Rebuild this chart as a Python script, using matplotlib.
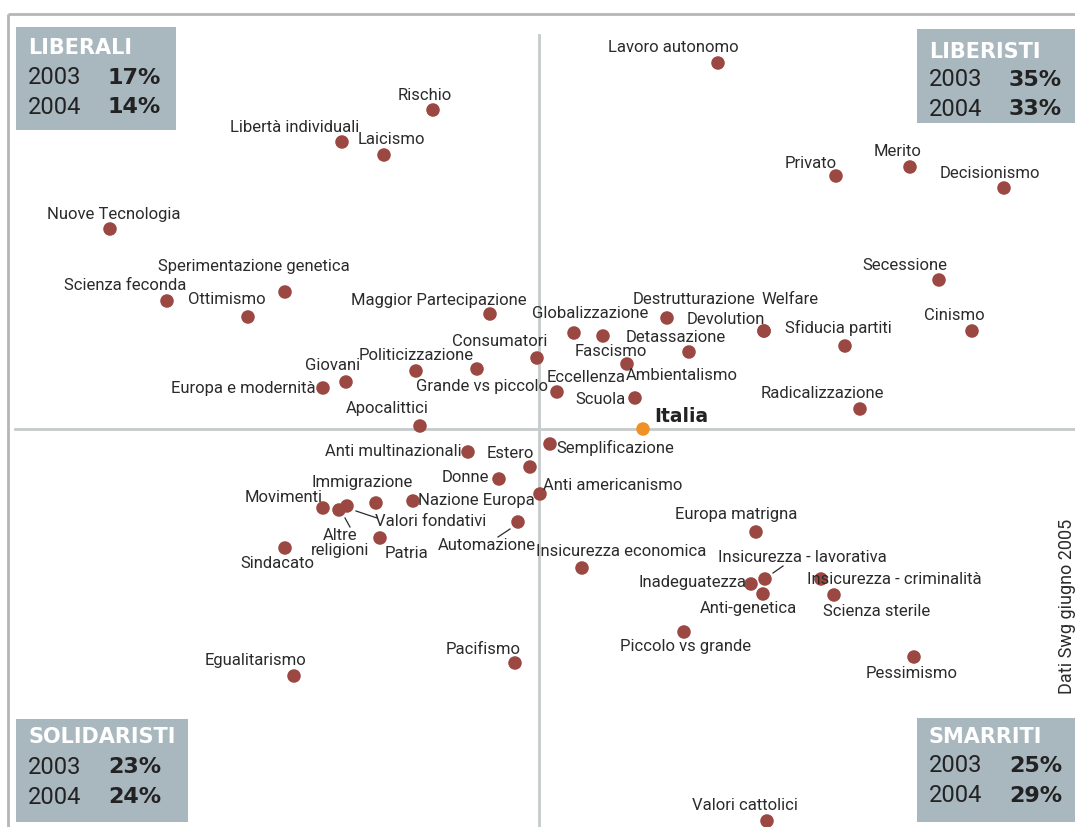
import matplotlib
matplotlib.use("Agg")
import matplotlib.pyplot as plt
from matplotlib.patches import Rectangle

# --- data: position of each theme on the map (pixel units of the original map) ---
names = [
    "Lavoro autonomo", "Rischio", "Libertà individuali", "Laicismo",
    "Privato", "Merito", "Decisionismo", "Nuove Tecnologia",
    "Sperimentazione genetica", "Scienza feconda", "Ottimismo", "Secessione",
    "Maggior Partecipazione", "Globalizzazione", "Fascismo", "Destrutturazione",
    "Detassazione", "Devolution", "Welfare", "Sfiducia partiti", "Cinismo",
    "Ambientalismo", "Consumatori", "Eccellenza", "Scuola", "Radicalizzazione",
    "Giovani", "Politicizzazione", "Europa e modernità", "Grande vs piccolo",
    "Apocalittici", "Anti multinazionali", "Estero", "Semplificazione", "Donne",
    "Anti americanismo", "Immigrazione", "Nazione Europa", "Movimenti",
    "Altre\nreligioni", "Valori fondativi", "Patria", "Automazione", "Sindacato",
    "Europa matrigna", "Insicurezza economica", "Insicurezza - lavorativa",
    "Inadeguatezza", "Anti-genetica", "Insicurezza - criminalità",
    "Scienza sterile", "Piccolo vs grande", "Pessimismo", "Egualitarismo",
    "Pacifismo", "Valori cattolici",
]
pos_x = [
    718, 433, 342, 384,
    836, 910, 1004, 110,
    285, 167, 248, 939,
    490, 574, 603, 667,
    689, 764, 764, 845, 972,
    627, 537, 557, 635, 860,
    346, 416, 323, 477,
    420, 468, 530, 550, 499,
    540, 376, 413, 323,
    339, 347, 380, 518, 285,
    756, 582, 765,
    751, 763, 821,
    834, 684, 914, 294,
    515, 767,
]
pos_y = [
    63, 110, 142, 155,
    176, 167, 188, 229,
    292, 301, 317, 280,
    314, 333, 336, 318,
    352, 331, 331, 346, 331,
    364, 358, 392, 398, 409,
    382, 371, 388, 369,
    426, 452, 467, 444, 479,
    494, 503, 501, 508,
    510, 506, 538, 522, 548,
    532, 568, 579,
    584, 594, 579,
    595, 632, 657, 676,
    663, 821,
]
italia_x, italia_y = 643, 429

groups = ["LIBERALI", "LIBERISTI", "SOLIDARISTI", "SMARRITI"]
share_2003 = [17, 35, 23, 25]
share_2004 = [14, 33, 24, 29]

# --- layout: label centres, same order as names ---
label_xy = [
    (673, 48), (425, 95), (295, 128), (391, 140),
    (811, 163), (898, 151), (990, 174), (114, 214),
    (254, 266), (125, 285), (227, 300), (905, 265),
    (439, 300), (590, 314), (611, 351), (694, 300),
    (676, 337), (726, 319), (790, 300), (838, 328), (954, 316),
    (682, 376), (500, 342), (586, 377), (601, 399), (822, 393),
    (333, 365), (416, 356), (243, 388), (482, 386),
    (387, 408), (393, 451), (510, 453), (615, 448), (465, 477),
    (613, 485), (362, 482), (476, 501), (284, 497),
    (340, 543), (431, 521), (406, 554), (487, 546), (277, 563),
    (736, 515), (621, 551), (802, 558),
    (692, 582), (748, 608), (894, 579),
    (877, 612), (686, 646), (912, 673), (256, 661),
    (483, 649), (745, 806),
]
leaders = [((345, 518), (350, 527)), ((356, 511), (377, 518)),
           ((498, 537), (510, 529)), ((773, 573), (783, 566))]
box_rects = [(16, 27, 160, 103), (917, 29, 158, 94), (16, 719, 172, 103), (917, 718, 158, 104)]
box_rows = [(48, 78, 107), (52, 80, 109), (737, 767, 797), (737, 766, 796)]

DOT = "#9a4841"
BOX = "#a9b7bf"
LINE = "#c5caca"
FRAME = "#b3b7b7"
TXT = "#2b2b2b"
FONT = ["Roboto", "DejaVu Sans"]

fig = plt.figure(figsize=(10.75, 8.27), dpi=100)
ax = fig.add_axes([0, 0, 1, 1])
ax.set_xlim(0, 1075)
ax.set_ylim(827, 0)
ax.axis("off")

# frame and quadrant axes
ax.plot([8, 1075], [14, 14], color=FRAME, lw=2, solid_capstyle="butt")
ax.plot([8, 8], [14, 827], color=FRAME, lw=2, solid_capstyle="butt")
ax.plot([539, 539], [35, 827], color=LINE, lw=2, zorder=1)
ax.plot([15, 1075], [429, 429], color=LINE, lw=2, zorder=1)

ax.scatter(pos_x, pos_y, s=95, color=DOT, edgecolors="none", zorder=3)
ax.scatter([italia_x], [italia_y], s=95, color="#f09126", edgecolors="none", zorder=3)

for name, (lx, ly) in zip(names, label_xy):
    ax.text(lx, ly, name, ha="center", va="center", fontsize=12, color=TXT,
            family=FONT, linespacing=1.0)
ax.text(654, 417, "Italia", ha="left", va="center", fontsize=13.5,
        fontweight="bold", color="#222222", family=["DejaVu Sans"])

for (x0, y0), (x1, y1) in leaders:
    ax.plot([x0, x1], [y0, y1], color=TXT, lw=0.9, zorder=2)

# quadrant boxes
for g, a, b, (bx, by, bw, bh), (ty, r1, r2) in zip(groups, share_2003, share_2004,
                                                     box_rects, box_rows):
    ax.add_patch(Rectangle((bx, by), bw, bh, facecolor=BOX, edgecolor="none", zorder=4))
    ax.text(bx + 12, ty, g, ha="left", va="center", fontsize=15, fontweight="bold",
            color="white", family=["DejaVu Sans"], zorder=5)
    for yy, year, val in [(r1, "2003", a), (r2, "2004", b)]:
        ax.text(bx + 12, yy, year, ha="left", va="center", fontsize=17,
                color="#222222", family=["Roboto", "DejaVu Sans"], zorder=5)
        ax.text(bx + 92, yy, f"{val}%", ha="left", va="center", fontsize=16,
                fontweight="bold", color="#222222", family=["DejaVu Sans"], zorder=5)

ax.text(1067, 606, "Dati Swg giugno 2005", rotation=90, ha="center", va="center",
        fontsize=13, color=TXT, family=FONT)

fig.savefig("out.png", dpi=100)
